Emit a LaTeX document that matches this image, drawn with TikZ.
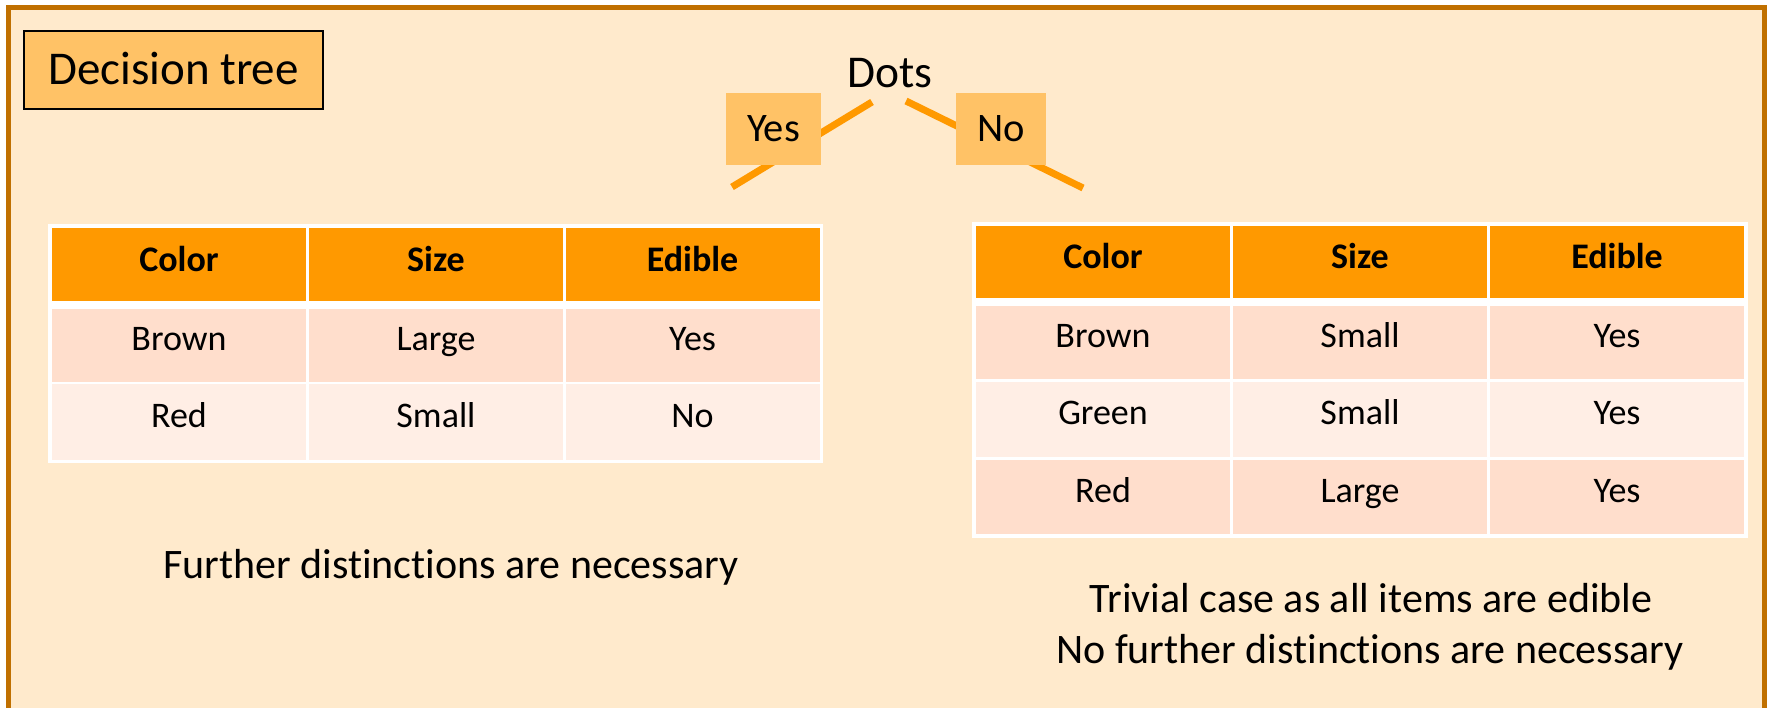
\documentclass[tikz,border=0pt]{standalone}
\usepackage{fontspec}
\setmainfont{Carlito}[Ligatures=NoCommon]

\definecolor{pagebg}{HTML}{FFEACC}
\definecolor{framec}{HTML}{C07000}
\definecolor{hdr}{HTML}{FF9900}
\definecolor{rowa}{HTML}{FFDECC}
\definecolor{rowb}{HTML}{FFEEE5}
\definecolor{tag}{HTML}{FFC266}

\tikzset{
  tcell/.style={inner sep=0pt, outer sep=0pt, minimum width=254pt,
    font=\fontsize{36}{40}\selectfont, text height=23pt, text depth=13pt},
  hcell/.style={tcell, fill=hdr, font=\fontsize{36}{40}\selectfont\bfseries,
    text height=24pt, text depth=10pt},
  acell/.style={tcell, fill=rowa},
  bcell/.style={tcell, fill=rowb},
  branch/.style={draw=hdr, line width=7pt},
  tagbox/.style={fill=tag, inner sep=0pt, font=\fontsize{40.5}{44}\selectfont,
    text height=26pt, text depth=0pt},
  note/.style={anchor=base, inner sep=0pt, font=\fontsize{42}{50}\selectfont}
}

\begin{document}
\begin{tikzpicture}[x=1pt,y=-1pt]
\useasboundingbox (0,0) rectangle (1769,708);
\clip (0,0) rectangle (1769,708);
\fill[white] (0,0) rectangle (1769,708);
% slide frame
\draw[framec, line width=5pt, fill=pagebg] (8,8) rectangle (1764,740);

% title tag
\node[draw=black, line width=1.2pt, fill=tag, inner sep=0pt,
  minimum width=299pt, minimum height=78pt, font=\fontsize{47}{50}\selectfont,
  text height=30pt, text depth=0pt] (title) at (173.5,70) {Decision tree};

% split on dots
\node[anchor=base, inner sep=0pt, font=\fontsize{45.5}{50}\selectfont] (dots) at (890,88) {Dots};
\coordinate (yesTop) at (872,102);
\coordinate (yesEnd) at (732,187);
\coordinate (noTop) at (906,101);
\coordinate (noEnd) at (1083,188);
\draw[branch] (yesTop) -- (yesEnd);
\draw[branch] (noTop) -- (noEnd);
\node[tagbox, minimum width=95pt, minimum height=72pt] (yes) at (773.5,129) {Yes};
\node[tagbox, minimum width=90pt, minimum height=72pt] (no) at (1001,129) {No};

% left table (dots = yes)
\fill[white] (48,224) rectangle (823,463);
\node[hcell, minimum height=73pt] (L11) at (179,264.5) {Color};
\node[hcell, minimum height=73pt] (L12) at (436,264.5) {Size};
\node[hcell, minimum height=73pt] (L13) at (692.5,264.5) {Edible};
\node[acell, minimum height=73pt] (L21) at (179,345.5) {Brown};
\node[acell, minimum height=73pt] (L22) at (436,345.5) {Large};
\node[acell, minimum height=73pt] (L23) at (692.5,345.5) {Yes};
\node[bcell, minimum height=76pt] (L31) at (179,422) {Red};
\node[bcell, minimum height=76pt] (L32) at (436,422) {Small};
\node[bcell, minimum height=76pt] (L33) at (692.5,422) {No};

% right table (dots = no)
\fill[white] (972,222) rectangle (1748,538);
\node[hcell, minimum height=72pt] (R11) at (1103,262) {Color};
\node[hcell, minimum height=72pt] (R12) at (1360,262) {Size};
\node[hcell, minimum height=72pt] (R13) at (1617,262) {Edible};
\node[acell, minimum height=73pt] (R21) at (1103,342.5) {Brown};
\node[acell, minimum height=73pt] (R22) at (1360,342.5) {Small};
\node[acell, minimum height=73pt] (R23) at (1617,342.5) {Yes};
\node[bcell, minimum height=75pt] (R31) at (1103,419.5) {Green};
\node[bcell, minimum height=75pt] (R32) at (1360,419.5) {Small};
\node[bcell, minimum height=75pt] (R33) at (1617,419.5) {Yes};
\node[acell, minimum height=74pt] (R41) at (1103,497) {Red};
\node[acell, minimum height=74pt] (R42) at (1360,497) {Large};
\node[acell, minimum height=74pt] (R43) at (1617,497) {Yes};

% conclusions
\node[note] (leftnote) at (451,578) {Further distinctions are necessary};
\node[note] (rightnoteA) at (1371,612) {Trivial case as all items are edible};
\node[note] (rightnoteB) at (1370,663) {No further distinctions are necessary};
\end{tikzpicture}
\end{document}
